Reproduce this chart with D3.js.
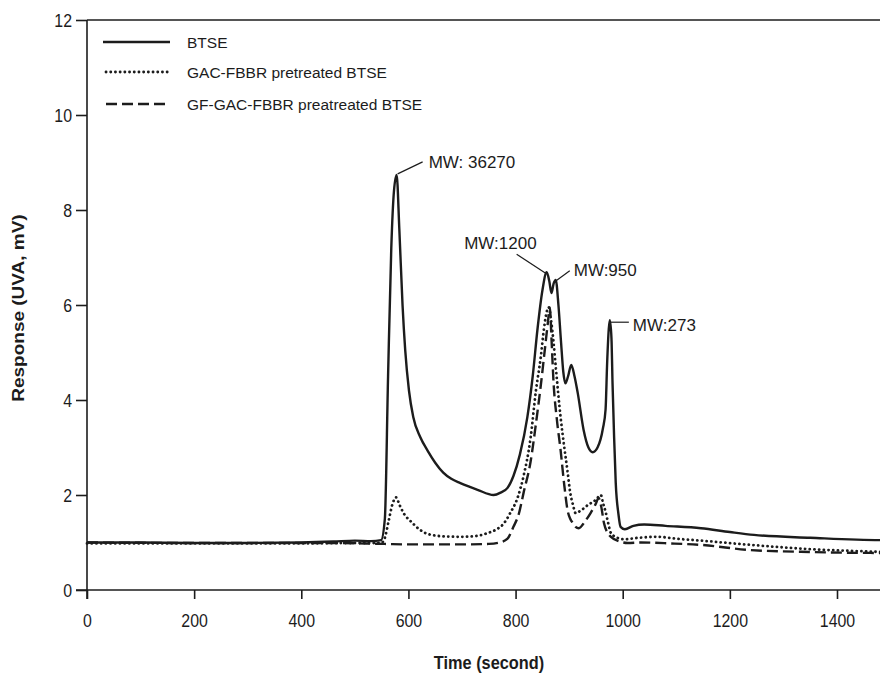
<!DOCTYPE html>
<html>
<head>
<meta charset="utf-8">
<title>BTSE GPC</title>
<script src="https://d3js.org/d3.v7.min.js"></script>
<style>
  body { margin: 0; background: #fff; }
  text { font-family: Arial, "Liberation Sans", sans-serif; fill: #1c1c1c; }
</style>
</head>
<body>
<script>
// data
var xTicks = [0, 200, 400, 600, 800, 1000, 1200, 1400];
var yTicks = [0, 2, 4, 6, 8, 10, 12];
var seriesNames = ['BTSE', 'GAC-FBBR pretreated BTSE', 'GF-GAC-FBBR preatreated BTSE'];

var btse = [[0,1.0],[100,1.0],[200,0.99],[300,0.99],[400,1.0],[460,1.02],[500,1.04],[530,1.03],[549,1.05],
  [556,1.5],[562,4.5],[568,7.2],[573,8.4],[578,8.74],[583,7.6],[589,6.0],[594,5.05],[601,4.2],[609,3.64],
  [622,3.22],[636,2.93],[650,2.68],[665,2.47],[680,2.34],[697,2.25],[729,2.11],[759,2.0],[772,2.05],[785,2.15],[796,2.4],
  [808,2.85],[822,3.64],[832,4.5],[841,5.5],[850,6.3],[858,6.69],[863,6.5],[867,6.25],[871,6.45],[875,6.53],
  [880,6.0],[885,5.2],[889,4.6],[893,4.35],[898,4.5],[904,4.74],[910,4.5],[916,4.15],[927,3.37],[936,3.0],
  [944,2.9],[953,3.0],[963,3.4],[968,3.8],[971,4.8],[974,5.5],[976,5.68],[979,5.3],[981,4.35],[984,3.2],
  [987,2.25],[992,1.6],[996,1.33],[1004,1.28],[1020,1.35],[1040,1.38],[1080,1.35],[1146,1.3],[1200,1.22],
  [1245,1.16],[1350,1.1],[1482,1.05],[1500,1.05]];

var gacBtse = [[0,0.98],[200,0.98],[400,0.98],[500,0.99],[549,0.99],[556,1.1],[563,1.45],[570,1.8],[577,1.95],
  [583,1.8],[592,1.6],[604,1.45],[620,1.28],[636,1.18],[665,1.13],[697,1.12],[729,1.14],[748,1.2],[765,1.28],
  [778,1.4],[790,1.62],[804,1.95],[815,2.4],[828,3.2],[838,4.2],[847,4.9],[853,5.5],[858,5.85],[862,5.95],
  [866,5.7],[871,5.2],[875,4.7],[884,3.64],[891,3.0],[897,2.5],[902,2.05],[907,1.8],[912,1.62],[920,1.66],
  [935,1.79],[950,1.9],[959,2.0],[964,1.8],[968,1.65],[973,1.4],[978,1.2],[990,1.1],[1002,1.07],[1030,1.1],
  [1065,1.12],[1100,1.08],[1146,1.04],[1239,0.95],[1350,0.86],[1482,0.8],[1500,0.79]];

var gfGacBtse = [[0,1.0],[200,0.99],[400,0.99],[520,0.98],[556,0.97],[600,0.96],[700,0.96],[750,0.97],[770,1.0],
  [785,1.08],[796,1.33],[806,1.6],[815,2.05],[828,2.7],[838,3.5],[847,4.3],[855,5.1],[860,5.6],[864,5.95],
  [867,5.3],[871,4.35],[877,3.6],[884,2.95],[891,2.2],[897,1.68],[902,1.5],[907,1.41],[912,1.33],[918,1.3],
  [930,1.45],[940,1.62],[950,1.82],[955,1.94],[960,1.75],[965,1.41],[972,1.2],[978,1.12],[995,1.02],[1009,0.99],
  [1034,1.0],[1090,0.98],[1146,0.95],[1239,0.84],[1350,0.8],[1482,0.78],[1500,0.78]];

// peak annotations: label and the peak it points at
var peakLabels = ['MW: 36270', 'MW:1200', 'MW:950', 'MW:273'];
var peakTimes = [578, 858, 875, 976];
var peakValues = [8.74, 6.69, 6.53, 5.68];

var width = 880, height = 673;
var svg = d3.select('body').append('svg')
  .attr('width', width)
  .attr('height', height);

// 0..1400 s spans 87..837 px, the plot runs off the right edge
var x = d3.scaleLinear().domain([0, 1500]).range([87, 87 + 750 * 1500 / 1400]);
var y = d3.scaleLinear().domain([0, 12]).range([590, 20]);

var ink = '#1c1c1c';

// axes
var xAxis = svg.append('g')
  .attr('transform', 'translate(0,' + y(0) + ')')
  .call(d3.axisBottom(x).tickValues(xTicks).tickFormat(d3.format('d')).tickSize(9).tickSizeOuter(0));
xAxis.select('.domain').remove();
xAxis.selectAll('line').attr('stroke', ink).attr('stroke-width', 1.6);
xAxis.selectAll('text')
  .attr('y', 0).attr('dy', null)
  .attr('transform', 'translate(0,37) scale(0.86,1)')
  .style('font-size', '18.5px').style('fill', ink);

var yAxis = svg.append('g')
  .attr('transform', 'translate(' + x(0) + ',0)')
  .call(d3.axisLeft(y).tickValues(yTicks).tickFormat(d3.format('d')).tickSize(11).tickSizeOuter(0));
yAxis.select('.domain').remove();
yAxis.selectAll('line').attr('stroke', ink).attr('stroke-width', 1.6);
yAxis.selectAll('text')
  .attr('x', 0).attr('dy', '0.36em')
  .attr('transform', 'translate(-15,0) scale(0.86,1)')
  .style('font-size', '18.5px').style('fill', ink);

// frame lines
svg.append('line').attr('x1', x(0) - 11).attr('x2', width).attr('y1', y(0)).attr('y2', y(0))
  .attr('stroke', ink).attr('stroke-width', 1.6);
svg.append('line').attr('x1', x(0)).attr('x2', width).attr('y1', y(12)).attr('y2', y(12))
  .attr('stroke', ink).attr('stroke-width', 1.6);
svg.append('line').attr('x1', x(0)).attr('x2', x(0)).attr('y1', y(12)).attr('y2', y(0) + 9)
  .attr('stroke', ink).attr('stroke-width', 1.6);

// axis titles
svg.append('text')
  .attr('transform', 'translate(' + 489 + ',669) scale(0.86,1)')
  .attr('text-anchor', 'middle')
  .style('font-size', '19px').style('font-weight', 'bold')
  .text('Time (second)');
svg.append('text')
  .attr('transform', 'translate(24,' + 308 + ') rotate(-90) scale(1,0.86)')
  .attr('text-anchor', 'middle')
  .style('font-size', '19px').style('font-weight', 'bold')
  .text('Response (UVA, mV)');

// curves
var line = d3.line()
  .x(function(d) { return x(d[0]); })
  .y(function(d) { return y(d[1]); })
  .curve(d3.curveMonotoneX);

var styles = [
  { dash: null, cap: 'butt' },
  { dash: '0.1,4.6', cap: 'round' },
  { dash: '11,5', cap: 'butt' }
];
var allSeries = [btse, gacBtse, gfGacBtse];

allSeries.forEach(function(s, i) {
  svg.append('path')
    .attr('d', line(s))
    .attr('fill', 'none')
    .attr('stroke', ink)
    .attr('stroke-width', i === 1 ? 2.8 : 2.4)
    .attr('stroke-linecap', styles[i].cap)
    .attr('stroke-linejoin', 'round')
    .attr('stroke-dasharray', styles[i].dash);
});

// legend
var legend = svg.append('g');
var legendY = [42, 72, 104];
seriesNames.forEach(function(name, i) {
  legend.append('line')
    .attr('x1', i === 0 ? 103 : 106).attr('x2', 170)
    .attr('y1', legendY[i]).attr('y2', legendY[i])
    .attr('stroke', ink)
    .attr('stroke-width', i === 1 ? 2.8 : 2.4)
    .attr('stroke-linecap', styles[i].cap)
    .attr('stroke-dasharray', styles[i].dash);
  legend.append('text')
    .attr('x', 187).attr('y', legendY[i] + 5.5)
    .style('font-size', '15.5px')
    .text(name);
});

// peak annotations (leader offsets in px from each peak)
var leaders = [
  { dx1: 1, dy1: -1, dx2: 26, dy2: -13, tx: 32, ty: -7, anchor: 'start' },
  { dx1: -1, dy1: 1, dx2: -30, dy2: -18, tx: -10, ty: -23, anchor: 'end' },
  { dx1: -1, dy1: 2, dx2: 14, dy2: -9, tx: 18, ty: -4, anchor: 'start' },
  { dx1: 1, dy1: 2, dx2: 19, dy2: 2, tx: 23, ty: 11, anchor: 'start' }
];
peakLabels.forEach(function(label, i) {
  var px = x(peakTimes[i]), py = y(peakValues[i]), l = leaders[i];
  svg.append('line')
    .attr('x1', px + l.dx1).attr('y1', py + l.dy1)
    .attr('x2', px + l.dx2).attr('y2', py + l.dy2)
    .attr('stroke', ink).attr('stroke-width', 1.2);
  svg.append('text')
    .attr('x', px + l.tx).attr('y', py + l.ty)
    .attr('text-anchor', l.anchor)
    .style('font-size', '17px')
    .text(label);
});
</script>
</body>
</html>
